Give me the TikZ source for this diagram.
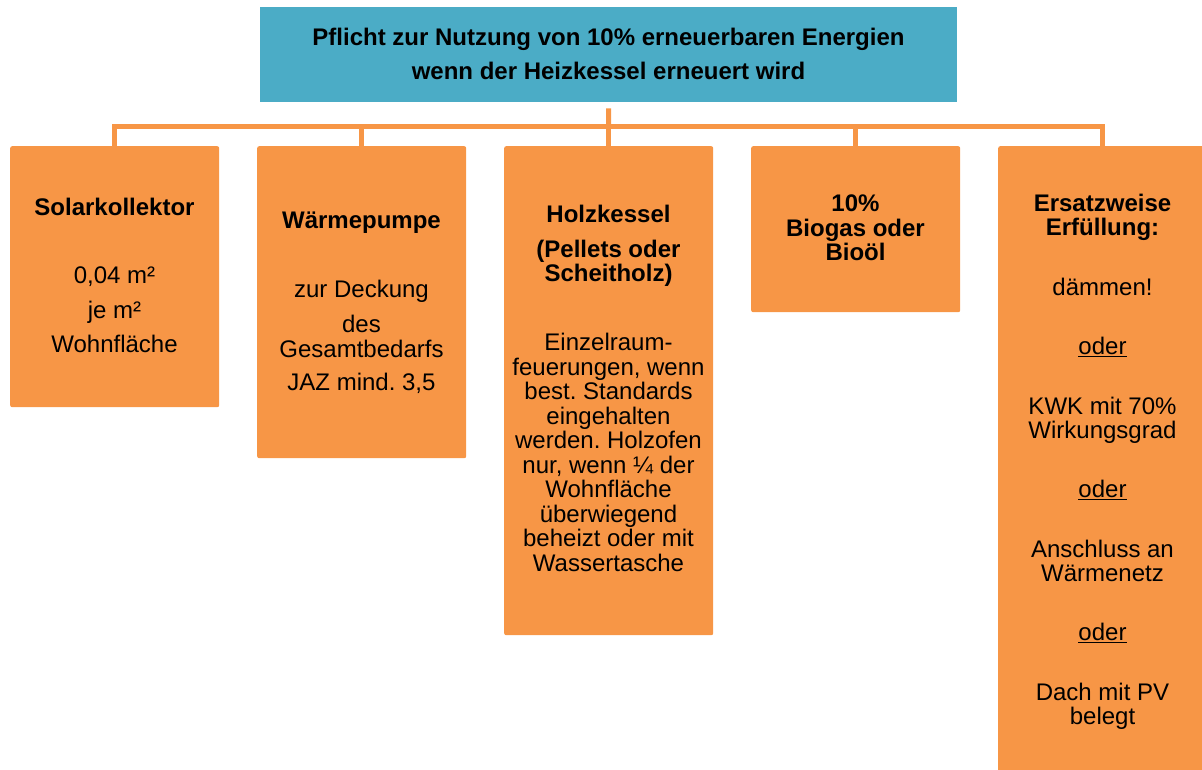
\documentclass[tikz,border=0pt]{standalone}
\usepackage{fontspec}
\setmainfont{Liberation Sans}
\frenchspacing
\definecolor{orng}{HTML}{F79646}
\definecolor{tblue}{HTML}{4BACC6}
\newcommand\odul[1]{\setbox0\hbox{#1}\rlap{\rule[-2.8pt]{\wd0}{1.8pt}}\box0}
\begin{document}
\begin{tikzpicture}[x=1pt,y=-1pt,
  obox/.style={fill=orng, draw=none, rounded corners=2pt, inner sep=0pt, anchor=north west},
  txt/.style={anchor=base, align=center, inner sep=0pt, font=\fontsize{24}{24.5}\selectfont},
  conn/.style={draw=orng, line width=5pt, line join=miter}]
\useasboundingbox (0,0) rectangle (1202,770);
\clip (0,0) rectangle (1202,770);
% top box
\node[fill=tblue, draw=none, inner sep=0pt, anchor=north west, minimum width=697pt, minimum height=95pt] (top) at (260,7) {};
% (text nodes are anchored at the baseline of their last line)
\node[txt, font=\bfseries\fontsize{24}{34}\selectfont] (toptext) at (608.5,80)
  {Pflicht zur Nutzung von 10\% erneuerbaren Energien\\wenn der Heizkessel erneuert wird};
% boxes
\node[obox, minimum width=209pt, minimum height=261pt] (b1) at (10,146) {};
\node[obox, minimum width=209pt, minimum height=312pt] (b2) at (257,146) {};
\node[obox, minimum width=209pt, minimum height=489pt] (b3) at (504,146) {};
\node[obox, minimum width=209pt, minimum height=166pt] (b4) at (751,146) {};
\node[obox, minimum width=209pt, minimum height=660pt] (b5) at (998,146) {};
% connectors
\coordinate (stem) at ([yshift=-6pt]top.south);
\coordinate (hub) at (608.5,126.5);
\draw[conn] (stem) -- (hub);
\draw[conn] (b1.north) |- (hub) -| (b5.north);
\draw[conn] (b2.north) -- (b2.north |- hub);
\draw[conn] (b3.north) -- (b3.north |- hub);
\draw[conn] (b4.north) -- (b4.north |- hub);
% texts
\node[txt] (t1) at (114.5,352)
  {\textbf{Solarkollektor}\\[43.5pt]0,04 m²\\[10.5pt]je m²\\[9.5pt]Wohnfläche};
\node[txt] (t2) at (361.5,390)
  {\textbf{Wärmepumpe}\\[44.5pt]zur Deckung\\[10.5pt]des\\[0.5pt]Gesamtbedarfs\\[8.5pt]JAZ mind. 3,5};
\node[txt] (t3) at (608.5,571)
  {\textbf{Holzkessel}\\[10.5pt]\textbf{(Pellets oder}\\\textbf{Scheitholz)}\\[44.5pt]Einzelraum-\\feuerungen, wenn\\best. Standards\\eingehalten\\werden. Holzofen\\nur, wenn ¼ der\\Wohnfläche\\überwiegend\\beheizt oder mit\\Wassertasche};
\node[txt, font=\bfseries\fontsize{24}{24}\selectfont] (t4) at (855.5,260)
  {10\%\\Biogas oder\\Bioöl};
\node[txt, font=\fontsize{24}{24}\selectfont] (t5) at (1102.5,724)
  {\textbf{Ersatzweise}\\\textbf{Erfüllung:}\\[35.5pt]dämmen!\\[35.5pt]\odul{oder}\\[35.5pt]KWK mit 70\%\\Wirkungsgrad\\[35.5pt]\odul{oder}\\[35.5pt]Anschluss an\\Wärmenetz\\[35.5pt]\odul{oder}\\[35.5pt]Dach mit PV\\belegt};
\end{tikzpicture}
\end{document}
